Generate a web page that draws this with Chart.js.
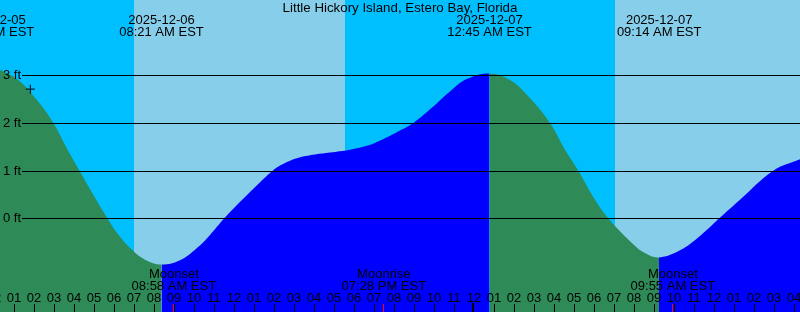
<!DOCTYPE html>
<html>
<head>
<meta charset="utf-8">
<title>Little Hickory Island tides</title>
<script src="https://cdn.jsdelivr.net/npm/chart.js@4.4.0/dist/chart.umd.min.js"></script>
<style>
  html, body { margin: 0; padding: 0; background: #00bfff; }
  canvas { display: block; }
</style>
</head>
<body>
<canvas id="tide-chart" width="800" height="312"></canvas>
<script>
/* Tide graph */

// hours are counted from midnight 2025-12-06 EST, heights in feet
const tideHours = [-0.1, 0.275, 1.275, 2.1, 2.94, 3.6, 4.275, 5.025, 5.69, 6.025, 6.775, 7.525, 8.35,
  9.275, 10.11, 10.775, 11.49, 12.775, 13.91, 14.525, 15.275, 16.025, 16.775, 17.775, 18.61, 19.425,
  20.275, 20.94, 21.925, 22.775, 23.61, 24.75,
  25.775, 26.775, 27.775, 28.525, 29.19, 30.025, 30.69, 31.775, 32.525, 33.225,
  34.275, 35.275, 36.24, 37.275, 38.94, 40.275];
const tideFeet = [3.13, 3.11, 2.87, 2.49, 2.0, 1.48, 0.98, 0.43, -0.03, -0.25, -0.62, -0.87, -0.97,
  -0.88, -0.63, -0.35, 0.0, 0.55, 1.0, 1.16, 1.28, 1.34, 1.38, 1.44, 1.52, 1.66,
  1.84, 2.0, 2.34, 2.66, 2.92, 3.04,
  2.9, 2.52, 2.0, 1.44, 1.0, 0.39, 0.0, -0.48, -0.73, -0.82,
  -0.67, -0.37, 0.0, 0.39, 1.0, 1.24];

// high / low tide labels along the top
const extremeHours = [-0.1, 8.35, 24.75, 33.233];
const extremeDates = ['2025-12-05', '2025-12-06', '2025-12-07', '2025-12-07'];
const extremeTimes = ['11:54 PM EST', '08:21 AM EST', '12:45 AM EST', '09:14 AM EST'];

// moon events along the bottom
const moonHours = [8.967, 19.467, 33.917];
const moonNames = ['Moonset', 'Moonrise', 'Moonset'];
const moonTimes = ['08:58 AM EST', '07:28 PM EST', '09:55 AM EST'];

// daylight
const sunriseHours = [6.975, 31.025];
const sunsetHours = [17.525];

const depthLines = [0, 1, 2, 3];
const markHour = [1.79];
const markFeet = [2.71];

const TITLE = 'Little Hickory Island, Estero Bay, Florida';
const FONT = '13px "Liberation Sans", Arial, sans-serif';
const TITLE_FONT = '13.3px "Liberation Sans", Arial, sans-serif';
const NIGHT = '#00bfff';
const DAY = '#87ceeb';
const FALLING = '#2e8b57';
const RISING = '#0000ff';

function hourLabel(h) {
  let n = ((h % 12) + 12) % 12;
  if (n === 0) n = 12;
  return String(n).padStart(2, '0');
}

const decorations = {
  id: 'tideDecor',
  beforeDatasetsDraw(chart) {
    const { ctx, chartArea: area, scales: { x } } = chart;
    ctx.save();
    ctx.fillStyle = NIGHT;
    ctx.fillRect(area.left, area.top, area.width, area.height);
    ctx.fillStyle = DAY;
    for (let i = 0; i < sunriseHours.length; i++) {
      const x0 = x.getPixelForValue(sunriseHours[i]);
      const x1 = i < sunsetHours.length ? x.getPixelForValue(sunsetHours[i]) : area.right;
      ctx.fillRect(x0, area.top, x1 - x0, area.height);
    }
    ctx.restore();
  },
  afterDatasetsDraw(chart) {
    const { ctx, chartArea: area, scales: { x, y } } = chart;
    ctx.save();
    ctx.font = FONT;
    ctx.fillStyle = '#000';

    // depth lines and their labels
    ctx.strokeStyle = '#000';
    ctx.lineWidth = 1;
    ctx.textAlign = 'left';
    ctx.textBaseline = 'middle';
    depthLines.forEach(ft => {
      const py = Math.round(y.getPixelForValue(ft)) + 0.5;
      ctx.beginPath();
      ctx.moveTo(22, py);
      ctx.lineTo(area.right, py);
      ctx.stroke();
      ctx.fillText(ft + ' ft', 3, py);
    });

    // title
    ctx.textAlign = 'center';
    ctx.textBaseline = 'alphabetic';
    ctx.font = TITLE_FONT;
    ctx.fillText(TITLE, (area.left + area.right) / 2, 11.5);
    ctx.font = FONT;

    // high / low tides
    extremeHours.forEach((h, i) => {
      const px = x.getPixelForValue(h);
      ctx.fillText(extremeDates[i], px, 24);
      ctx.fillText(extremeTimes[i], px, 36);
    });

    // moon events
    moonHours.forEach((h, i) => {
      const px = x.getPixelForValue(h);
      ctx.fillText(moonNames[i], px, 278);
      ctx.fillText(moonTimes[i], px, 290);
    });

    // hour ticks
    for (let h = Math.floor(x.min); h <= Math.ceil(x.max); h++) {
      const px = x.getPixelForValue(h);
      ctx.fillStyle = '#000';
      ctx.fillText(hourLabel(h), px - 0.5, 301.5);
      if (h % 24 === 0) {
        ctx.fillRect(Math.floor(px) - 2, 303, 2, 9);
      } else {
        ctx.fillRect(Math.floor(px), 304, 1, 8);
      }
    }
    ctx.fillStyle = '#ff0000';
    moonHours.forEach(h => {
      ctx.fillRect(Math.floor(x.getPixelForValue(h)), 304, 1, 8);
    });
    ctx.restore();
  }
};

const tidePoints = tideHours.map((h, i) => ({ x: h, y: tideFeet[i] }));
const markPoints = markHour.map((h, i) => ({ x: h, y: markFeet[i] }));

new Chart(document.getElementById('tide-chart'), {
  type: 'line',
  data: {
    datasets: [
      {
        label: 'tide',
        data: tidePoints,
        order: 1,
        fill: 'start',
        backgroundColor: RISING,
        borderColor: 'rgba(0,0,0,0)',
        borderWidth: 0,
        pointRadius: 0,
        tension: 0.4,
        segment: {
          // green while the tide falls, blue while it rises
          backgroundColor: c => c.p1.parsed.y < c.p0.parsed.y ? FALLING : RISING
        }
      },
      {
        label: 'mark',
        data: markPoints,
        order: 0,
        showLine: false,
        pointStyle: 'cross',
        pointRadius: 4.5,
        borderColor: '#000',
        borderWidth: 1,
        fill: false
      }
    ]
  },
  options: {
    responsive: false,
    animation: false,
    layout: { padding: 0, autoPadding: false },
    plugins: { legend: { display: false }, tooltip: { enabled: false } },
    scales: {
      x: { type: 'linear', min: 0.275, max: 40.275, display: false },
      y: { min: -1.966, max: 4.58, display: false }
    }
  },
  plugins: [decorations]
});
</script>
</body>
</html>
